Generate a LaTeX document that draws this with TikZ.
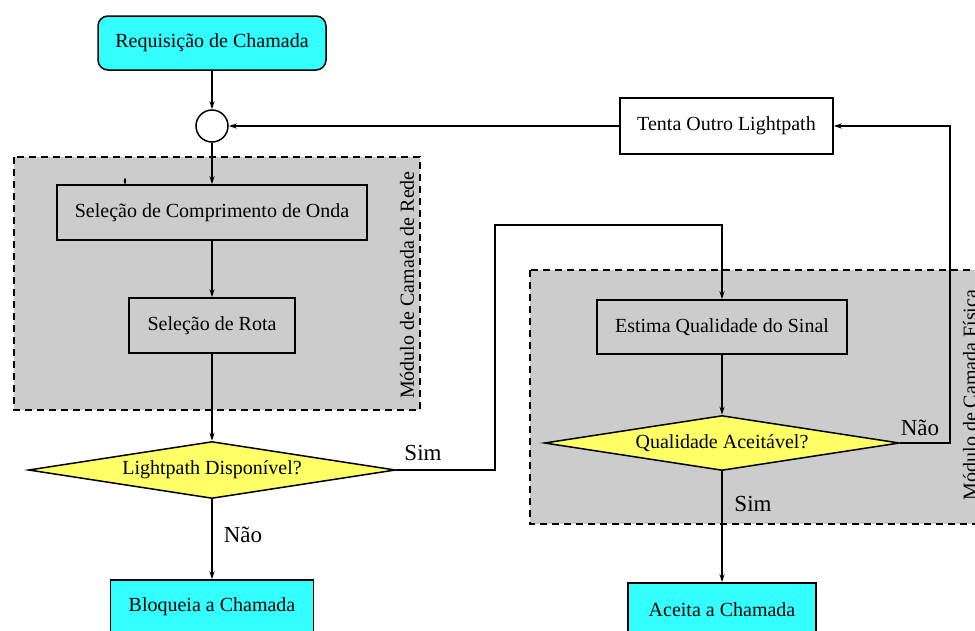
\documentclass[tikz,border=0pt]{standalone}
\usepackage{fontspec}
\setmainfont{Liberation Serif}
\usetikzlibrary{shapes.geometric,arrows.meta}
\definecolor{cyanbox}{RGB}{51,255,255}
\definecolor{yellowd}{RGB}{255,255,102}
\definecolor{modgray}{RGB}{204,204,204}
\tikzset{
  txt/.style={font=\fontsize{20}{24}\selectfont},
  lbl/.style={font=\fontsize{23}{27}\selectfont, inner sep=0pt},
  procbox/.style={draw, line width=1.5pt, rectangle, inner sep=0pt, txt},
  decis/.style={draw, line width=1.5pt, diamond, fill=yellowd, inner sep=0pt, aspect=6.4, txt},
  modbox/.style={draw, dashed, dash pattern=on 7pt off 5pt, line width=1.5pt, fill=modgray},
  conn/.style={line width=1.5pt, -{Stealth[length=8pt,width=5pt]}},
  plainline/.style={line width=1.5pt},
  modlabel/.style={rotate=90, font=\fontsize{20}{24}\selectfont, inner sep=0pt}
}
\begin{document}
\begin{tikzpicture}[x=1pt,y=-1pt]
\useasboundingbox (0,0) rectangle (975,630);
\clip (0,0) rectangle (975,630);
% module backgrounds
\draw[modbox] (14,157) rectangle (420,410);
\draw[modbox] (530,270) rectangle (1000,524);
\node[modlabel] (modrede) at (407,285) {Módulo de Camada de Rede};
\node[modlabel] (modfis) at (970,395) {Módulo de Camada Física};
% nodes
\node[procbox, fill=cyanbox, rounded corners=10pt, minimum width=228pt, minimum height=54pt] (req) at (212,43) {Requisição de Chamada};
\node[draw, circle, line width=1.5pt, fill=white, minimum size=32pt, inner sep=0pt] (circ) at (212,126) {};
\node[procbox, fill=modgray, minimum width=310pt, minimum height=55pt] (wave) at (212,212.5) {Seleção de Comprimento de Onda};
\node[procbox, fill=modgray, minimum width=166pt, minimum height=55pt] (rota) at (212,325.5) {Seleção de Rota};
\node[decis, minimum width=367pt, minimum height=57pt] (disp) at (212,470) {Lightpath Disponível?};
\node[procbox, fill=cyanbox, minimum width=203pt, minimum height=54pt] (bloq) at (212,607) {Bloqueia a Chamada};
\node[procbox, fill=white, minimum width=213pt, minimum height=56pt] (tenta) at (726.5,126) {Tenta Outro Lightpath};
\node[procbox, fill=modgray, minimum width=250pt, minimum height=54pt] (estima) at (722,327) {Estima Qualidade do Sinal};
\node[decis, minimum width=355pt, minimum height=55pt] (qual) at (722,443) {Qualidade Aceitável?};
\node[procbox, fill=cyanbox, minimum width=188pt, minimum height=54pt] (aceita) at (722,610) {Aceita a Chamada};
% labels
\node[lbl] (simA) at (423,453) {Sim};
\node[lbl] (naoA) at (243,535) {Não};
\node[lbl] (naoB) at (920,428) {Não};
\node[lbl] (simB) at (753,504) {Sim};
% helper coordinates
\coordinate (c1) at (495,225);
\coordinate (c3) at (950,126);
% connectors
\draw[conn] (req) -- (circ);
\draw[conn] (circ) -- (wave);
\draw[conn] (wave) -- (rota);
\draw[conn] (rota) -- (disp);
\draw[conn] (disp) -- (bloq);
\draw[conn] (disp.east) -| (c1) -| (estima.north);
\draw[conn] (estima) -- (qual);
\draw[conn] (qual) -- (aceita);
\draw[conn] (qual.east) -| (c3) -- (tenta.east);
\draw[conn] (tenta.west) -- (circ.east);
% small stray mark
\fill (125,181) ellipse (1.2pt and 3pt);
\end{tikzpicture}
\end{document}
